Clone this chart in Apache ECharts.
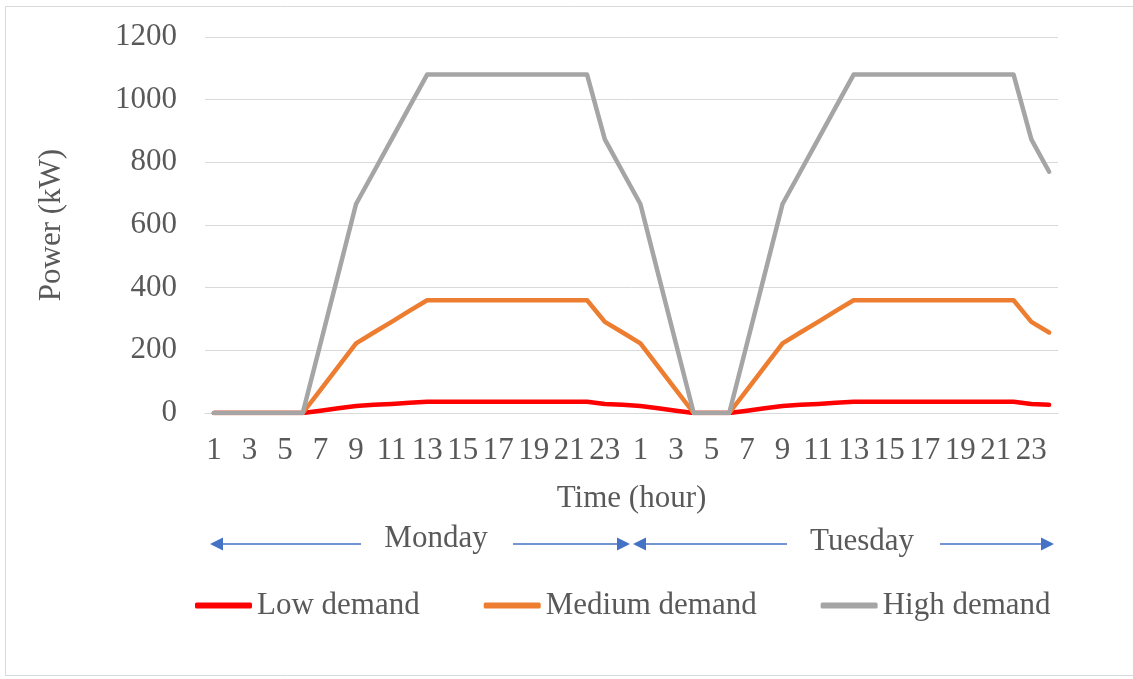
<!DOCTYPE html>
<html>
<head>
<meta charset="utf-8">
<script src="https://cdn.jsdelivr.net/npm/echarts@6/dist/echarts.min.js"></script>
<style>
  html, body { margin: 0; padding: 0; background: #ffffff; }
  #chart { width: 1133px; height: 679px; }
</style>
</head>
<body>
<div id="chart"></div>
<script>
// Hour labels for one day; the axis shows two consecutive days.
const hourLabels = ['1','2','3','4','5','6','7','8','9','10','11','12',
                    '13','14','15','16','17','18','19','20','21','22','23','24'];
const categories = hourLabels.concat(hourLabels);

const dayNames = ['Monday', 'Tuesday'];
const seriesNames = ['Low demand', 'Medium demand', 'High demand'];

// Power (kW) per hour, Monday then Tuesday
const lowMonday    = [0, 0, 0, 0, 0, 0, 7, 15, 22, 26, 29, 33, 36, 36, 36, 36, 36, 36, 36, 36, 36, 36, 29, 26];
const lowTuesday   = [22, 15, 7, 0, 0, 0, 7, 15, 22, 26, 29, 33, 36, 36, 36, 36, 36, 36, 36, 36, 36, 36, 29, 26];
const mediumMonday = [0, 0, 0, 0, 0, 0, 74, 148, 222, 257, 291, 326, 360, 360, 360, 360, 360, 360, 360, 360, 360, 360, 291, 257];
const mediumTuesday= [222, 148, 74, 0, 0, 0, 74, 148, 222, 257, 291, 326, 360, 360, 360, 360, 360, 360, 360, 360, 360, 360, 291, 257];
const highMonday   = [0, 0, 0, 0, 0, 0, 222, 444, 667, 770, 873, 977, 1080, 1080, 1080, 1080, 1080, 1080, 1080, 1080, 1080, 1080, 873, 770];
const highTuesday  = [667, 444, 222, 0, 0, 0, 222, 444, 667, 770, 873, 977, 1080, 1080, 1080, 1080, 1080, 1080, 1080, 1080, 1080, 1080, 873, 770];

const yTicks = { min: 0, max: 1200, interval: 200 };

const FONT = '"Liberation Serif", "Times New Roman", serif';
const TEXT = '#595959';
const GRID = '#d9d9d9';
const ARROW = '#4472C4';
const colors = ['#FF0000', '#ED7D31', '#A5A5A5'];

const chart = echarts.init(document.getElementById('chart'), null, { renderer: 'canvas' });

function lineSeries(name, data, color) {
  return {
    name: name,
    type: 'line',
    data: data,
    symbol: 'none',
    smooth: false,
    lineStyle: { color: color, width: 4.5, cap: 'round', join: 'round' },
    itemStyle: { color: color },
    emphasis: { disabled: true }
  };
}

// Double-headed day arrows drawn beneath the time axis
function arrowHead(tipX, y, dir) {
  const len = 13, half = 6.5;
  return {
    type: 'polygon',
    shape: { points: [[tipX, y], [tipX - dir * len, y - half], [tipX - dir * len, y + half]] },
    style: { fill: ARROW }
  };
}
function segment(x1, x2, y) {
  return {
    type: 'line',
    shape: { x1: x1, y1: y, x2: x2, y2: y },
    style: { stroke: ARROW, lineWidth: 1.5 }
  };
}
function dayLabel(text, x, y) {
  return {
    type: 'text',
    x: x, y: y,
    style: {
      text: text, fill: TEXT, font: '31px ' + FONT,
      textAlign: 'center', textVerticalAlign: 'middle'
    }
  };
}

const arrowY = 544;

chart.setOption({
  animation: false,
  backgroundColor: '#ffffff',
  color: colors,
  grid: { left: 205, right: 75, top: 37, bottom: 266, containLabel: false },
  legend: {
    data: seriesNames,
    left: 190,
    top: 585,
    itemWidth: 57,
    itemHeight: 6,
    itemGap: 64,
    icon: 'roundRect',
    textStyle: { color: TEXT, fontSize: 31, fontFamily: FONT }
  },
  xAxis: {
    type: 'category',
    data: categories,
    boundaryGap: true,
    name: 'Time (hour)',
    nameLocation: 'middle',
    nameGap: 70,
    nameTextStyle: { color: TEXT, fontSize: 31, fontFamily: FONT },
    axisLine: { show: true, lineStyle: { color: GRID, width: 1 } },
    axisTick: { show: false },
    axisLabel: { interval: 1, margin: 22, color: TEXT, fontSize: 31, fontFamily: FONT },
    splitLine: { show: false }
  },
  yAxis: {
    type: 'value',
    min: yTicks.min,
    max: yTicks.max,
    interval: yTicks.interval,
    name: 'Power (kW)',
    nameLocation: 'middle',
    nameGap: 138,
    nameRotate: 90,
    nameTextStyle: { color: TEXT, fontSize: 31, fontFamily: FONT },
    axisLine: { show: false },
    axisTick: { show: false },
    axisLabel: {
      margin: 28, color: TEXT, fontSize: 31, fontFamily: FONT,
      formatter: function (v) { return String(v); }
    },
    splitLine: { lineStyle: { color: GRID, width: 1 } }
  },
  series: [
    lineSeries(seriesNames[0], lowMonday.concat(lowTuesday), colors[0]),
    lineSeries(seriesNames[1], mediumMonday.concat(mediumTuesday), colors[1]),
    lineSeries(seriesNames[2], highMonday.concat(highTuesday), colors[2])
  ],
  graphic: [
    {
      type: 'rect',
      shape: { x: 5.5, y: 6.5, width: 1140, height: 669 },
      style: { fill: null, stroke: GRID, lineWidth: 1 },
      silent: true
    },
    // Monday
    segment(214, 361, arrowY), arrowHead(210, arrowY, -1),
    segment(513, 626, arrowY), arrowHead(630, arrowY, 1),
    dayLabel(dayNames[0], 436, 539),
    // Tuesday
    segment(637, 787, arrowY), arrowHead(633, arrowY, -1),
    segment(940, 1050, arrowY), arrowHead(1054, arrowY, 1),
    dayLabel(dayNames[1], 862, 542)
  ]
});
</script>
</body>
</html>
